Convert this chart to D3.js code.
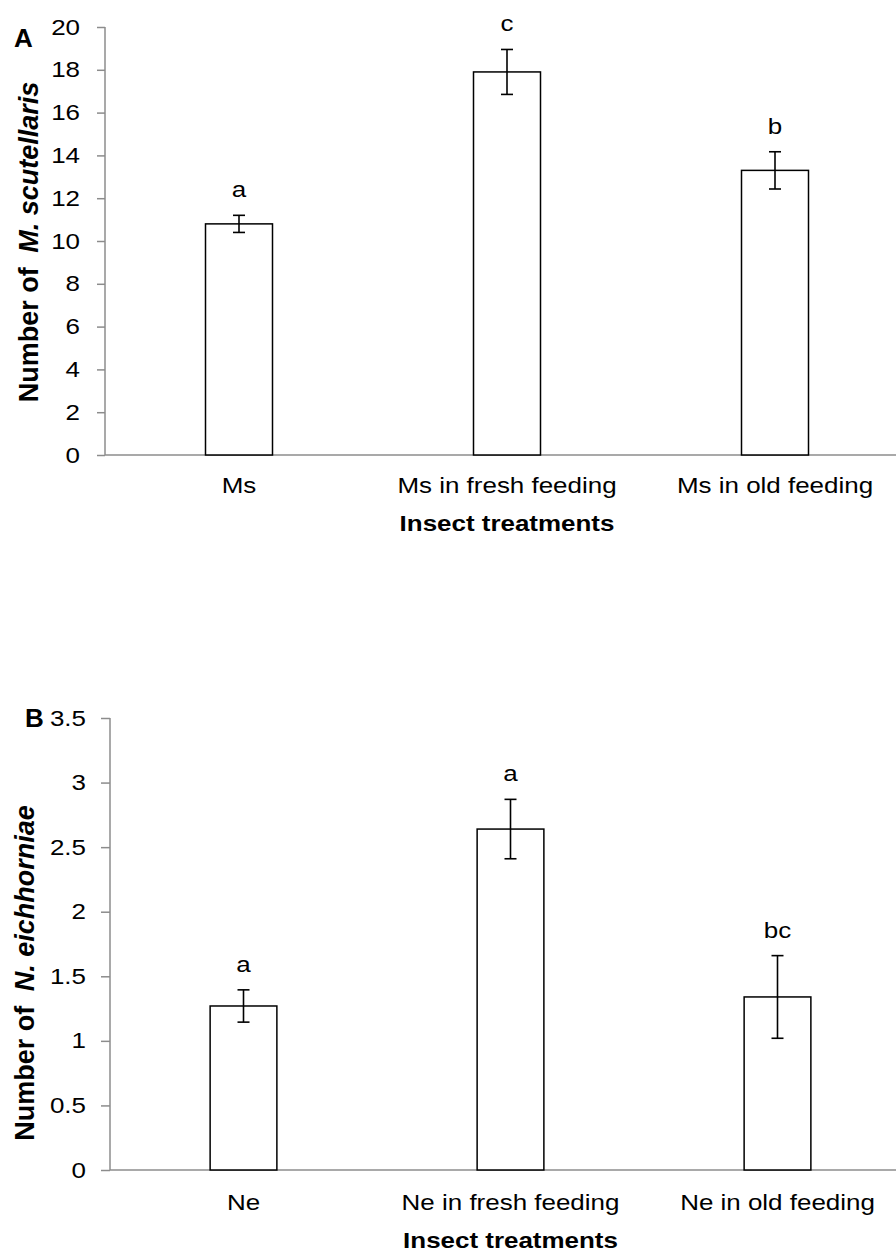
<!DOCTYPE html>
<html>
<head>
<meta charset="utf-8">
<script src="https://cdn.jsdelivr.net/npm/d3@7"></script>
<style>
  body { margin: 0; background: #fff; }
  svg { display: block; font-family: "Liberation Sans", Arial, sans-serif; }
  .axis path, .axis line { stroke: #8c8c8c; stroke-width: 1.5; }
  .axis text { fill: #000; font-size: 22px; }
</style>
</head>
<body>
<script>
// Panel A data
var catsA = ["Ms", "Ms in fresh feeding", "Ms in old feeding"];
var meansA = [10.8, 17.9, 13.3];
var errA = [0.4, 1.05, 0.87];
var lettersA = ["a", "c", "b"];
var ticksA = [0, 2, 4, 6, 8, 10, 12, 14, 16, 18, 20];

// Panel B data
var catsB = ["Ne", "Ne in fresh feeding", "Ne in old feeding"];
var meansB = [1.27, 2.64, 1.34];
var errB = [0.125, 0.23, 0.32];
var lettersB = ["a", "a", "bc"];
var ticksB = [0, 0.5, 1, 1.5, 2, 2.5, 3, 3.5];

var W = 896, H = 1252;
var SX = 1.18; // the source figure is a bit wider than tall in its lettering

var svg = d3.select("body").append("svg")
    .attr("width", W)
    .attr("height", H);

function place(x, y) {
    return "translate(" + x + "," + y + ") scale(" + SX + ",1)";
}

function panel(opt) {
    var g = svg.append("g");

    var x = d3.scaleBand()
        .domain(opt.cats)
        .range([opt.left, opt.left + 3 * opt.step])
        .paddingInner(0.75)
        .paddingOuter(0.375);

    var y = d3.scaleLinear()
        .domain([0, opt.max])
        .range([opt.bottom, opt.top]);

    // y axis
    var ax = g.append("g")
        .attr("class", "axis")
        .attr("transform", "translate(" + opt.left + ",0)")
        .call(d3.axisLeft(y)
            .tickValues(opt.ticks)
            .tickSize(opt.tick)
            .tickPadding(opt.pad)
            .tickSizeOuter(0)
            .tickFormat(function(d) { return "" + d; }));
    ax.select(".domain").attr("d", "M0," + y(0) + "V" + y(opt.max));
    ax.selectAll(".tick text")
        .attr("x", null)
        .attr("transform", "translate(" + (-(opt.tick + opt.pad)) + ",0) scale(" + SX + ",1)");

    // x axis line
    g.append("line")
        .attr("x1", opt.left).attr("x2", W)
        .attr("y1", y(0)).attr("y2", y(0))
        .attr("stroke", "#8c8c8c").attr("stroke-width", 1.5);

    var data = opt.cats.map(function(c, i) {
        return { cat: c, mean: opt.means[i], err: opt.errs[i], letter: opt.letters[i] };
    });

    // bars
    g.selectAll("rect.bar")
        .data(data)
        .enter().append("rect")
        .attr("class", "bar")
        .attr("x", function(d) { return x(d.cat); })
        .attr("y", function(d) { return y(d.mean); })
        .attr("width", x.bandwidth())
        .attr("height", function(d) { return y(0) - y(d.mean); })
        .attr("fill", "#fff")
        .attr("stroke", "#000")
        .attr("stroke-width", 1.5);

    // error bars
    var cx = function(d) { return x(d.cat) + x.bandwidth() / 2; };
    var eb = g.selectAll("g.err")
        .data(data)
        .enter().append("g")
        .attr("class", "err")
        .attr("stroke", "#000")
        .attr("stroke-width", 1.6);
    eb.append("line")
        .attr("x1", cx).attr("x2", cx)
        .attr("y1", function(d) { return y(d.mean + d.err); })
        .attr("y2", function(d) { return y(d.mean - d.err); });
    eb.append("line")
        .attr("x1", function(d) { return cx(d) - 6; })
        .attr("x2", function(d) { return cx(d) + 6; })
        .attr("y1", function(d) { return y(d.mean + d.err); })
        .attr("y2", function(d) { return y(d.mean + d.err); });
    eb.append("line")
        .attr("x1", function(d) { return cx(d) - 6; })
        .attr("x2", function(d) { return cx(d) + 6; })
        .attr("y1", function(d) { return y(d.mean - d.err); })
        .attr("y2", function(d) { return y(d.mean - d.err); });

    // significance letters
    g.selectAll("text.letter")
        .data(data)
        .enter().append("text")
        .attr("class", "letter")
        .attr("transform", function(d) { return place(cx(d), y(d.mean + d.err) - 18); })
        .attr("text-anchor", "middle")
        .attr("font-size", "22px")
        .text(function(d) { return d.letter; });

    // category labels
    g.selectAll("text.cat")
        .data(data)
        .enter().append("text")
        .attr("class", "cat")
        .attr("transform", function(d) { return place(cx(d), y(0) + opt.catDy); })
        .attr("text-anchor", "middle")
        .attr("font-size", "22px")
        .text(function(d) { return d.cat; });

    // x title
    g.append("text")
        .attr("transform", place(x(opt.cats[1]) + x.bandwidth() / 2, y(0) + opt.titleDy))
        .attr("text-anchor", "middle")
        .attr("font-size", "22px")
        .attr("font-weight", "bold")
        .text("Insect treatments");

    // y title
    var yt = g.append("text")
        .attr("transform", "translate(" + opt.titleX + "," + opt.titleY + ") rotate(-90)")
        .attr("text-anchor", "middle")
        .attr("font-size", "27px")
        .attr("font-weight", "bold");
    yt.append("tspan").text("Number of ");
    yt.append("tspan").attr("font-style", "italic").attr("dx", 7).text(opt.species);

    // panel letter
    g.append("text")
        .attr("transform", "translate(" + opt.letterX + "," + opt.letterY + ")")
        .attr("font-size", "26px")
        .attr("font-weight", "bold")
        .text(opt.panel);
}

panel({
    cats: catsA, means: meansA, errs: errA, letters: lettersA, ticks: ticksA,
    max: 20, left: 105, step: 268, top: 27, bottom: 455, tick: 8, pad: 17,
    catDy: 38, titleDy: 76,
    species: "M. scutellaris", titleX: 38, titleY: 242,
    panel: "A", letterX: 14, letterY: 47
});

panel({
    cats: catsB, means: meansB, errs: errB, letters: lettersB, ticks: ticksB,
    max: 3.5, left: 110, step: 267, top: 718, bottom: 1170, tick: 9, pad: 15,
    catDy: 40, titleDy: 78,
    species: "N. eichhorniae", titleX: 34, titleY: 973,
    panel: "B", letterX: 25, letterY: 727
});
</script>
</body>
</html>
